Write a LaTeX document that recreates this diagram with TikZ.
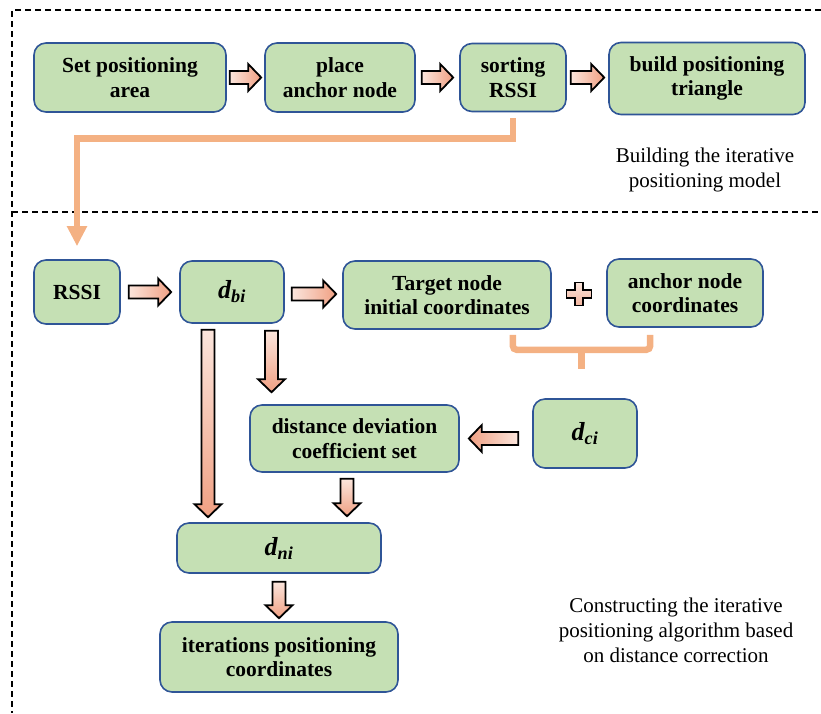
\documentclass[tikz,border=0pt]{standalone}
\usepackage{fontspec}
\setmainfont{Liberation Serif}
\usetikzlibrary{calc,arrows.meta,positioning}

\definecolor{boxgreen}{HTML}{C5E0B4}
\definecolor{boxblue}{HTML}{2F5597}
\definecolor{linkorange}{HTML}{F4B183}
\definecolor{arrowlight}{HTML}{FBE5DC}
\definecolor{arrowdark}{HTML}{F0A083}

\tikzset{
  stage/.style={draw=boxblue, line width=1.6pt, fill=boxgreen, rounded corners=12pt,
    align=center, inner sep=2pt, font=\fontsize{21.5}{24.5}\selectfont\bfseries},
  note/.style={align=center, font=\fontsize{21}{25}\selectfont},
  fatarrow/.style={draw=black, line width=1.8pt, line join=miter},
  link/.style={draw=linkorange, line width=6.5pt},
  sectionline/.style={draw=black, line width=1.4pt, dash pattern=on 6pt off 4pt}
}

% distance symbol, bold italic
\newcommand{\dist}[1]{{\fontsize{26}{26}\selectfont\itshape d\textsubscript{#1}}}

% block arrow: #1 shading, #2 tail, #3 tip
\newcommand{\fatarrow}[3]{%
  \coordinate (fa tail) at #2;
  \coordinate (fa tip) at #3;
  \coordinate (fa neck) at ($(fa tip)!13pt!(fa tail)$);
  \shade[fatarrow,#1] ($(fa tail)!6.5pt!90:(fa tip)$) -- ($(fa neck)!6.5pt!90:(fa tip)$)
    -- ($(fa neck)!13.5pt!90:(fa tip)$) -- (fa tip) -- ($(fa neck)!13.5pt!-90:(fa tip)$)
    -- ($(fa neck)!6.5pt!-90:(fa tip)$) -- ($(fa tail)!6.5pt!-90:(fa tip)$) -- cycle;
}

\begin{document}
\begin{tikzpicture}[x=1pt,y=-1pt]
\useasboundingbox (0,0) rectangle (821,713);

% dashed section frame
\draw[sectionline] (821,10) -- (12,10) -- (12,713);
\draw[sectionline] (12,212) -- (821,212);

% building the model
\node[stage, minimum width=192pt, minimum height=69pt] (set) at (130,77.5) {Set positioning\\area};
\node[stage, minimum width=150pt, minimum height=69pt] (place) at (340,77.5) {place\\anchor node};
\node[stage, minimum width=106pt, minimum height=68pt] (sorting) at (513,77.5) {sorting\\RSSI};
\node[stage, minimum width=196pt, minimum height=72pt] (build) at (707,78.5) {build positioning\\triangle};
\node[note] (model) at (705,170) {Building the iterative\\positioning model};

\fatarrow{left color=arrowlight, right color=arrowdark}{($(set.east)+(3,0)$)}{($(place.west)+(-3,0)$)}
\fatarrow{left color=arrowlight, right color=arrowdark}{($(place.east)+(6,0)$)}{($(sorting.west)+(-6,0)$)}
\fatarrow{left color=arrowlight, right color=arrowdark}{($(sorting.east)+(4,0)$)}{($(sorting.east -| build.west)+(-4,0)$)}

% iterative algorithm
\node[stage, minimum width=86pt, minimum height=64pt] (rssi) at (77,292) {RSSI};
\node[stage, minimum width=104pt, minimum height=62pt] (dbi) at (232,292) {\dist{bi}};
\node[stage, minimum width=208pt, minimum height=68pt] (target) at (447,295) {Target node\\initial coordinates};
\node[stage, minimum width=156pt, minimum height=68pt] (anchors) at (685,293) {anchor node\\coordinates};
\node[stage, minimum width=209pt, minimum height=67pt] (deviation) at (354.5,438.5) {distance deviation\\coefficient set};
\node[stage, minimum width=104pt, minimum height=69pt] (dci) at (585,433.5) {\dist{ci}};
\node[stage, minimum width=204pt, minimum height=50pt] (dni) at (279,548) {\dist{ni}};
\node[stage, minimum width=238pt, minimum height=70pt] (result) at (279,657) {iterations positioning\\coordinates};
\node[note] (algorithm) at (676,630) {Constructing the iterative\\positioning algorithm based\\on distance correction};

% orange links
\draw[link, -{Triangle[width=19pt,length=20pt]}] ($(sorting.south)+(0,6)$) -- ++(0,20) -| ($(rssi.north)+(0,-13)$);
\coordinate (brace left) at ($(target.south east)+(-39,5)$);
\coordinate (brace right) at ($(anchors.south west)+(44,7)$);
\draw[link, rounded corners=4pt] (brace left) -- ++(0,15) -| (brace right);
\draw[link] ($(brace left)!0.5!(brace right)+(0,14)$) -- ++(0,20);

% plus sign
\coordinate (plus) at ($(target.east)!0.5!(anchors.west)$);
\shade[fatarrow, top color=arrowlight, bottom color=arrowdark!70!arrowlight] (plus) ++(-4,-11.5) -- ++(8,0) -- ++(0,7.5)
  -- ++(8.5,0) -- ++(0,8) -- ++(-8.5,0) -- ++(0,7.5) -- ++(-8,0) -- ++(0,-7.5)
  -- ++(-8.5,0) -- ++(0,-8) -- ++(8.5,0) -- cycle;

% block arrows
\fatarrow{left color=arrowlight, right color=arrowdark}{($(rssi.east)+(8,0)$)}{($(rssi.east -| dbi.west)+(-8,0)$)}
\fatarrow{left color=arrowlight, right color=arrowdark}{($(dbi.east)+(7,2)$)}{($(dbi.east -| target.west)+(-6,2)$)}
\fatarrow{top color=arrowlight, bottom color=arrowdark}{($(dbi.south)+(-24,6)$)}{($(dni.north)+(-71,-5)$)}
\fatarrow{top color=arrowlight, bottom color=arrowdark}{($(dbi.south)+(39.5,7)$)}{($(deviation.north)+(-83,-12)$)}
\fatarrow{left color=arrowdark, right color=arrowlight}{($(dci.west |- deviation.east)+(-14,0)$)}{($(deviation.east)+(9,0)$)}
\fatarrow{top color=arrowlight, bottom color=arrowdark}{($(deviation.south)+(-7.5,6)$)}{($(deviation.south |- dni.north)+(-7.5,-6)$)}
\fatarrow{top color=arrowlight, bottom color=arrowdark}{($(dni.south)+(0,8)$)}{($(result.north)+(0,-3)$)}
\end{tikzpicture}
\end{document}
